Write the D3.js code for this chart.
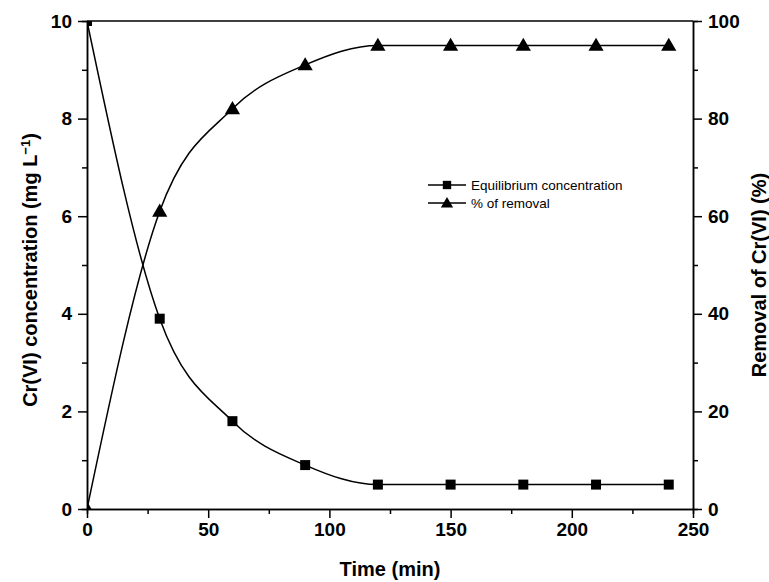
<!DOCTYPE html>
<html>
<head>
<meta charset="utf-8">
<script src="https://cdn.jsdelivr.net/npm/d3@7"></script>
<style>
  body { margin: 0; background: #fff; }
  text { font-family: Arial, "Liberation Sans", sans-serif; }
  .axis text { font-size: 19px; font-weight: bold; }
  .axis path, .axis line { stroke: #000; stroke-width: 1.5; }
</style>
</head>
<body>
<div id="chart"></div>
<script>
var times = [0, 30, 60, 90, 120, 150, 180, 210, 240];
var concentration = [10, 3.9, 1.8, 0.9, 0.5, 0.5, 0.5, 0.5, 0.5];
var removal = [0, 61, 82, 91, 95, 95, 95, 95, 95];
var xTicks = [0, 50, 100, 150, 200, 250];
var yLeftTicks = [0, 2, 4, 6, 8, 10];
var yRightTicks = [0, 20, 40, 60, 80, 100];

var svgWidth = 769, svgHeight = 582;
var margin = { top: 21, right: 76, bottom: 73, left: 87 };
var width = svgWidth - margin.left - margin.right;
var height = svgHeight - margin.top - margin.bottom;

var svg = d3.select("#chart").append("svg")
  .attr("width", svgWidth)
  .attr("height", svgHeight);

var g = svg.append("g")
  .attr("transform", `translate(${margin.left}, ${margin.top})`);

var x = d3.scaleLinear().domain([0, 250]).range([0, width]);
var yL = d3.scaleLinear().domain([0, 10]).range([height, 0]);
var yR = d3.scaleLinear().domain([0, 100]).range([height, 0]);

// minor ticks first
g.append("g").attr("class", "axis")
  .attr("transform", `translate(0, ${height})`)
  .call(d3.axisBottom(x).tickValues(d3.range(25, 250, 50)).tickSize(5).tickFormat(""));
g.append("g").attr("class", "axis")
  .call(d3.axisLeft(yL).tickValues(d3.range(1, 10, 2)).tickSize(5).tickFormat(""));
g.append("g").attr("class", "axis")
  .attr("transform", `translate(${width}, 0)`)
  .call(d3.axisRight(yR).tickValues(d3.range(10, 100, 20)).tickSize(5).tickFormat(""));

// major axes
g.append("g").attr("class", "axis")
  .attr("transform", `translate(0, ${height})`)
  .call(d3.axisBottom(x).tickValues(xTicks).tickSize(9).tickSizeOuter(0).tickPadding(5));
g.append("g").attr("class", "axis")
  .call(d3.axisLeft(yL).tickValues(yLeftTicks).tickSize(9).tickSizeOuter(0).tickPadding(6));
g.append("g").attr("class", "axis")
  .attr("transform", `translate(${width}, 0)`)
  .call(d3.axisRight(yR).tickValues(yRightTicks).tickSize(9).tickSizeOuter(0).tickPadding(6));

// top frame
g.append("line")
  .attr("x1", 0).attr("x2", width).attr("y1", 0).attr("y2", 0)
  .attr("stroke", "#000").attr("stroke-width", 1.5);

g.append("clipPath").attr("id", "plotclip")
  .append("rect").attr("width", width).attr("height", height);

var plot = g.append("g").attr("clip-path", "url(#plotclip)");

var concData = times.map((t, i) => [t, concentration[i]]);
var remData = times.map((t, i) => [t, removal[i]]);

plot.append("path")
  .datum(concData)
  .attr("fill", "none").attr("stroke", "#000").attr("stroke-width", 1.5)
  .attr("d", d3.line().x(d => x(d[0])).y(d => yL(d[1])).curve(d3.curveMonotoneX));

plot.append("path")
  .datum(remData)
  .attr("fill", "none").attr("stroke", "#000").attr("stroke-width", 1.5)
  .attr("d", d3.line().x(d => x(d[0])).y(d => yR(d[1])).curve(d3.curveMonotoneX));

var square = d3.symbol().type(d3.symbolSquare).size(100);
var triangle = d3.symbol().type(d3.symbolTriangle).size(100);

plot.selectAll(".sq").data(concData).enter().append("path")
  .attr("d", square)
  .attr("transform", d => `translate(${x(d[0])}, ${yL(d[1])})`)
  .attr("fill", "#000");

plot.selectAll(".tri").data(remData).enter().append("path")
  .attr("d", triangle)
  .attr("transform", d => `translate(${x(d[0])}, ${yR(d[1]) + 1})`)
  .attr("fill", "#000");

// legend
var legend = svg.append("g").attr("transform", "translate(428, 185)");
var legendItems = [
  { label: "Equilibrium concentration", sym: d3.symbol().type(d3.symbolSquare).size(70) },
  { label: "% of removal", sym: d3.symbol().type(d3.symbolTriangle).size(65) }
];
legendItems.forEach(function (item, i) {
  var row = legend.append("g").attr("transform", `translate(0, ${i * 18})`);
  row.append("line").attr("x1", 0).attr("x2", 38).attr("y1", 0).attr("y2", 0)
    .attr("stroke", "#000").attr("stroke-width", 1.5);
  row.append("path").attr("d", item.sym)
    .attr("transform", `translate(19, ${i === 0 ? 0 : 1})`).attr("fill", "#000");
  row.append("text").attr("x", 43).attr("y", 5)
    .style("font-size", "13.5px").text(item.label);
});

// axis titles
svg.append("text")
  .attr("x", margin.left + width / 2).attr("y", 576)
  .attr("text-anchor", "middle")
  .style("font-size", "20px").style("font-weight", "bold")
  .text("Time (min)");

var leftTitle = svg.append("text")
  .attr("transform", `translate(37, ${margin.top + height / 2 + 5}) rotate(-90)`)
  .attr("text-anchor", "middle")
  .style("font-size", "20px").style("font-weight", "bold");
leftTitle.append("tspan").text("Cr(VI) concentration (mg L");
leftTitle.append("tspan").attr("baseline-shift", "super").style("font-size", "13px").text("\u22121");
leftTitle.append("tspan").text(")");

svg.append("text")
  .attr("transform", `translate(766, ${margin.top + height / 2 + 10}) rotate(-90)`)
  .attr("text-anchor", "middle")
  .style("font-size", "20px").style("font-weight", "bold")
  .text("Removal of Cr(VI) (%)");
</script>
</body>
</html>
